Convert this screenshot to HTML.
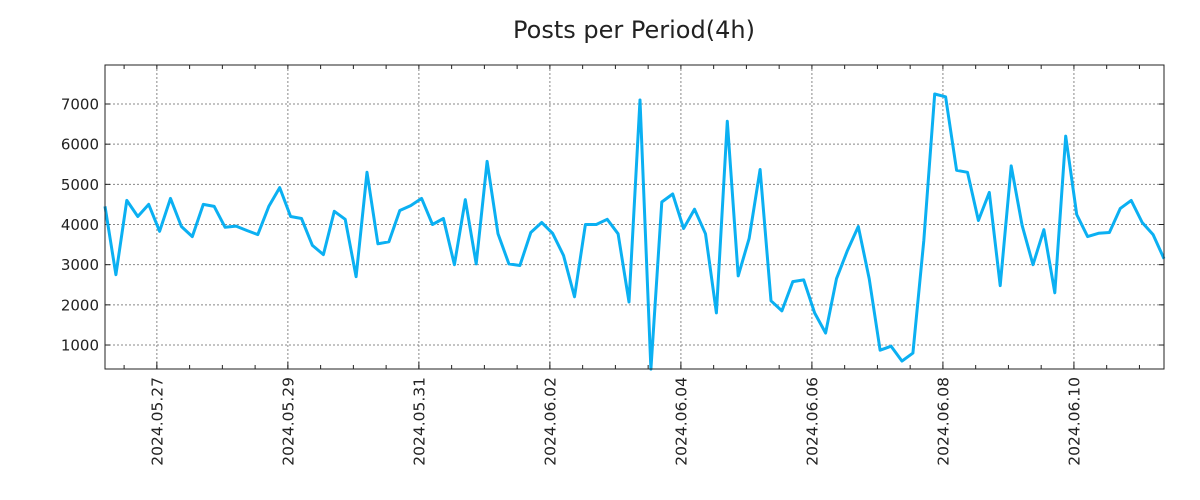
<!DOCTYPE html>
<html><head><meta charset="utf-8"><style>
html,body{margin:0;padding:0;background:#fff;}
svg{display:block;font-family:"DejaVu Sans","Liberation Sans",sans-serif;}
</style></head><body>
<svg id="chart" width="1200" height="500">
<text x="634" y="38" text-anchor="middle" font-size="24" fill="#222">Posts per Period(4h)</text>
<g id="grid"></g><g id="axes"></g><g id="series"></g>
<rect x="105" y="65" width="1059" height="304" fill="none" stroke="#222" stroke-width="1"/>
</svg>
<script>
const values = [4450,2750,4600,4200,4500,3830,4650,3950,3700,4500,4450,3930,3960,3850,3750,4450,4920,4200,4150,3480,3250,4330,4130,2700,5300,3520,3570,4350,4470,4650,4000,4150,3000,4620,3020,5570,3770,3020,2980,3800,4050,3780,3230,2200,4000,4000,4130,3770,2070,7100,400,4560,4760,3900,4380,3770,1800,6570,2720,3650,5370,2100,1850,2580,2620,1800,1300,2650,3350,3950,2650,870,970,600,800,3600,7250,7180,5350,5300,4100,4800,2480,5460,3980,3000,3870,2300,6200,4250,3700,3780,3800,4400,4600,4050,3750,3150];
const yTicks = [1000,2000,3000,4000,5000,6000,7000];
const xTickLabels = ["2024.05.27","2024.05.29","2024.05.31","2024.06.02","2024.06.04","2024.06.06","2024.06.08","2024.06.10"];
const startHour = -19; // first point relative to 2024.05.27 00:00
const stepHours = 4;

const L=105,R=1164,T=65,B=369;
const yMin=403,yMax=7971;
const xMin=startHour, xMax=startHour+stepHours*(values.length-1);
const xs=h=>L+(h-xMin)/(xMax-xMin)*(R-L);
const ys=v=>B-(v-yMin)/(yMax-yMin)*(B-T);
const NS="http://www.w3.org/2000/svg";
function mk(tag,attrs,parent){const e=document.createElementNS(NS,tag);for(const k in attrs)e.setAttribute(k,attrs[k]);parent.appendChild(e);return e;}
const grid=document.getElementById('grid'),axes=document.getElementById('axes'),series=document.getElementById('series');

yTicks.forEach(v=>{
  const y=ys(v);
  const g=mk('line',{x1:L,x2:R,y1:y,y2:y,stroke:'#888','stroke-dasharray':'2,2','stroke-width':1},grid);
  
  
  mk('line',{x1:L,x2:L+5,y1:y,y2:y,stroke:'#222'},axes);
  mk('line',{x1:R-5,x2:R,y1:y,y2:y,stroke:'#222'},axes);
  const t=mk('text',{x:L-6,y:y+5.5,'text-anchor':'end','font-size':15,fill:'#222'},axes);
  t.textContent=v;
  
  
});
for(let h=-12;h<=xMax;h+=12){
  if(h<xMin)continue;
  const x=xs(h);
  mk('line',{x1:x,x2:x,y1:T,y2:T+4,stroke:'#222'},axes);
  mk('line',{x1:x,x2:x,y1:B-4,y2:B,stroke:'#222'},axes);
}
xTickLabels.forEach((lab,i)=>{
  const x=xs(i*48);
  const g=mk('line',{x1:x,x2:x,y1:T,y2:B,stroke:'#888','stroke-dasharray':'2,2','stroke-width':1},grid);
  
  
  mk('line',{x1:x,x2:x,y1:B-7,y2:B,stroke:'#222'},axes);
  const t=mk('text',{x:0,y:0,'text-anchor':'end','font-size':15.5,fill:'#222',transform:`translate(${x+5.5},${B+8}) rotate(-90)`},axes);
  t.textContent=lab;
  
  
});
const pts=values.map((v,i)=>xs(startHour+i*stepHours).toFixed(1)+','+ys(v).toFixed(1)).join(' ');
const line=mk('polyline',{points:pts,fill:'none',stroke:'#0bb0f2','stroke-width':3,'stroke-linejoin':'round'},series);


</script>
</body></html>
